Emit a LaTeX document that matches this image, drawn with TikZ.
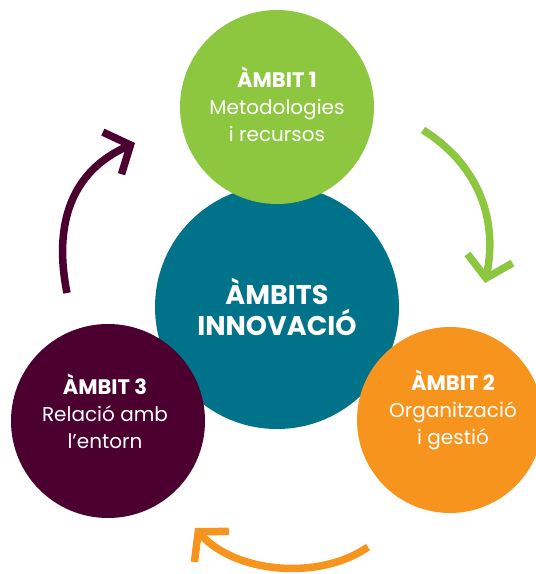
\documentclass[tikz,border=0pt]{standalone}
\usepackage{fontspec}
\setmainfont{Poppins}
\usepackage{tikz}
\usetikzlibrary{positioning, arrows.meta}

\definecolor{ambitgreen}{HTML}{8DC63F}
\definecolor{ambitteal}{HTML}{00728A}
\definecolor{ambitpurple}{HTML}{4B0030}
\definecolor{ambitorange}{HTML}{F7941D}

\newcommand{\ambithead}[1]{{\bfseries\fontsize{21}{27}\selectfont #1}}

\begin{document}
\begin{tikzpicture}[x=1pt, y=-1pt,
    ambit/.style={circle, inner sep=0pt},
    label/.style={text=white, align=center, font=\fontsize{20}{27}\selectfont},
    arrow/.style={-{Straight Barb[length=20pt, width=46pt, line join=miter]}, line width=7.5pt}
]
    \useasboundingbox (0,0) rectangle (536,574);

    % Centre
    \node[ambit, fill=ambitteal, minimum size=244pt] (centre) at (277,307) {};
    \node[label, font=\bfseries\fontsize{27}{31}\selectfont] (centretext) at (centre) {ÀMBITS\\INNOVACIÓ};

    % Ambit 1
    \node[ambit, fill=ambitgreen, minimum size=194pt] (ambit1) at (277,107) {};
    \node[label] (text1) at ([yshift=3pt]ambit1) {\ambithead{ÀMBIT 1}\\Metodologies\\i recursos};

    % Ambit 2
    \node[ambit, fill=ambitorange, minimum size=186pt] (ambit2) at (450,420) {};
    \node[label] (text2) at ([xshift=3pt, yshift=10pt]ambit2) {\ambithead{ÀMBIT 2}\\Organització\\i gestió};

    % Ambit 3
    \node[ambit, fill=ambitpurple, minimum size=194pt] (ambit3) at (108,421) {};
    \node[label] (text3) at ([xshift=-3pt, yshift=10pt]ambit3) {\ambithead{ÀMBIT 3}\\Relació amb\\l’entorn};

    % Arrows
    \coordinate (a1start) at (423,130);
    \coordinate (a1end) at (485,283);
    \coordinate (a2start) at (368,547);
    \coordinate (a2end) at (195,528);
    \coordinate (a3start) at (67,293);
    \coordinate (a3end) at (135,143);

    \draw[arrow, ambitgreen] (a1start) .. controls (474,162) and (499,214) .. (a1end);
    \draw[arrow, ambitorange] (a2start) .. controls (319,581) and (235,573) .. (a2end);
    \draw[arrow, ambitpurple] (a3start) .. controls (53,223) and (72,171) .. (a3end);

\end{tikzpicture}
\end{document}
